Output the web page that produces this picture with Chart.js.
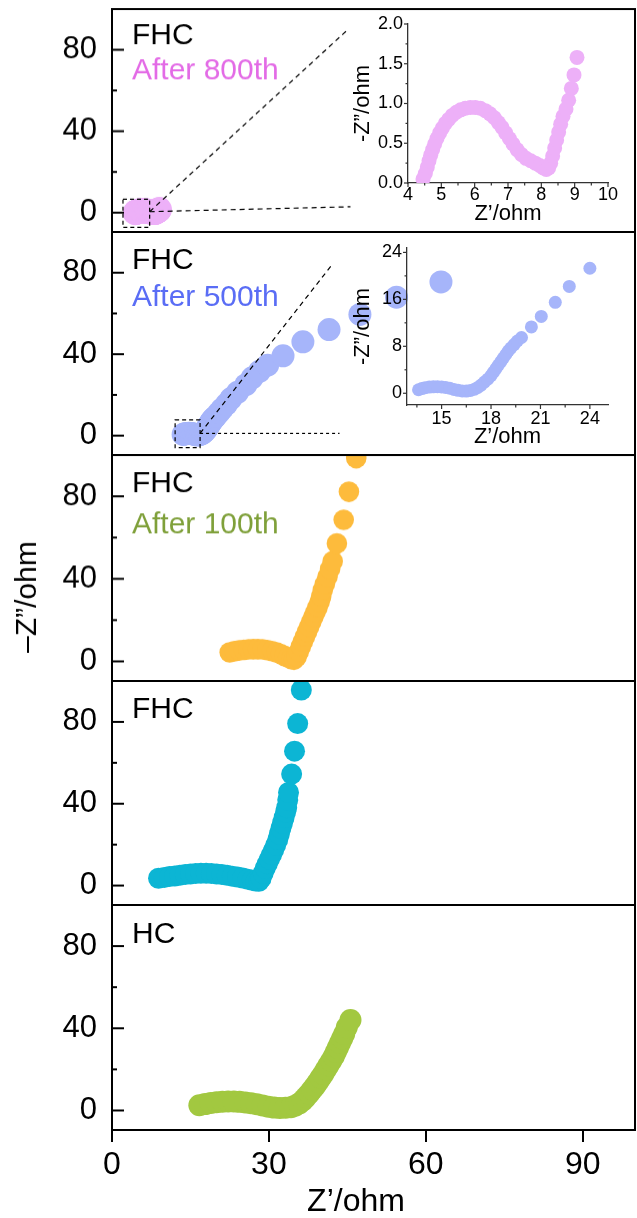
<!DOCTYPE html>
<html>
<head>
<meta charset="utf-8">
<title>Nyquist plots</title>
<script src="https://cdn.jsdelivr.net/npm/chart.js@4.4.1/dist/chart.umd.min.js"></script>
<style>
  html, body { margin: 0; padding: 0; background: #fff; }
  #fig { position: relative; width: 637px; height: 1218px; overflow: hidden; background: #fff; }
  #fig canvas { position: absolute; }
  .axis-title { position: absolute; font-family: 'Liberation Sans', Arial, sans-serif; color: #000; white-space: nowrap; line-height: 1; }
  #ytitle { left: 26px; top: 597px; font-size: 30px; transform: translate(-50%, -50%) rotate(-90deg); }
  #xtitle { left: 356px; top: 1184px; font-size: 32px; transform: translateX(-50%); }
</style>
</head>
<body>
<div id="fig">
  <canvas id="p800"></canvas>
  <canvas id="p500"></canvas>
  <canvas id="p100"></canvas>
  <canvas id="pfhc"></canvas>
  <canvas id="phc"></canvas>
  <canvas id="i800"></canvas>
  <canvas id="i500"></canvas>
  <div class="axis-title" id="ytitle">–Z”/ohm</div>
  <div class="axis-title" id="xtitle">Z’/ohm</div>
</div>
<script>
// FHC after 800 cycles
const after800Re = [4.45, 4.52, 4.58, 4.63, 4.68, 4.74, 4.80, 4.87, 4.95, 5.03, 5.12, 5.22, 5.33, 5.45, 5.58, 5.72,
  5.87, 6.02, 6.17, 6.32, 6.46, 6.59, 6.71, 6.82, 6.93, 7.04, 7.15, 7.27, 7.40, 7.54, 7.68, 7.82, 7.95, 8.06, 8.15,
  8.22, 8.28, 8.34, 8.40, 8.46, 8.52, 8.58, 8.65, 8.74, 8.82, 8.90, 8.98, 9.07];
const after800Im = [0.05, 0.12, 0.20, 0.28, 0.35, 0.42, 0.49, 0.56, 0.63, 0.69, 0.75, 0.80, 0.85, 0.89, 0.92, 0.94,
  0.95, 0.95, 0.94, 0.91, 0.87, 0.82, 0.76, 0.70, 0.63, 0.56, 0.49, 0.42, 0.36, 0.31, 0.28, 0.25, 0.22, 0.19, 0.17,
  0.19, 0.25, 0.34, 0.44, 0.54, 0.64, 0.74, 0.84, 0.93, 1.04, 1.19, 1.36, 1.58];

// FHC after 500 cycles
const after500Re = [13.6, 13.8, 14.0, 14.25, 14.5, 14.75, 15.0, 15.25, 15.5, 15.75, 16.0, 16.25, 16.5, 16.75, 17.0,
  17.2, 17.4, 17.6, 17.8, 18.0, 18.15, 18.3, 18.45, 18.6, 18.75, 18.9, 19.05, 19.2, 19.4, 19.6, 19.85, 20.45, 21.05,
  21.9, 22.75, 24.0, 25.6, 26.8, 28.2, 29.75, 32.7, 36.5, 41.5, 47.4, 54.4, 62.9];
const after500Im = [0.6, 0.8, 0.95, 1.05, 1.1, 1.12, 1.08, 1.0, 0.85, 0.65, 0.5, 0.4, 0.38, 0.48, 0.7,
  1.0, 1.4, 1.9, 2.4, 3.0, 3.6, 4.2, 4.8, 5.4, 6.0, 6.6, 7.2, 7.7, 8.3, 8.9, 9.5, 11.3, 13.1,
  15.5, 18.2, 21.3, 25.0, 28.4, 31.6, 34.6, 39.2, 46.1, 52.1, 59.5, 68.0, 75.5];

// FHC after 100 cycles
const after100Re = [22.5, 23.4, 24.3, 25.2, 26.1, 27.0, 27.9, 28.8, 29.7, 30.6, 31.5, 32.3, 33.0, 33.7, 34.3, 34.8,
  35.3, 35.7, 36.1, 36.5, 36.9, 37.3, 37.7, 38.1, 38.5, 38.9, 39.3, 39.7, 40.0, 40.3, 40.7, 41.2, 41.7, 42.2,
  43.0, 44.3, 45.3, 46.7];
const after100Im = [4.4, 4.9, 5.3, 5.6, 5.8, 5.9, 5.9, 5.8, 5.5, 5.0, 4.3, 3.5, 2.6, 1.8, 1.1, 0.8,
  2.2, 4.6, 7.2, 9.6, 12.0, 14.4, 16.8, 19.2, 21.5, 23.8, 26.2, 28.8, 31.5, 34.5, 37.5, 41.0, 44.8, 48.5,
  57.2, 68.6, 82.2, 98.5];

// FHC fresh
const fhcRe = [8.9, 10.0, 11.0, 12.0, 13.0, 14.0, 15.0, 16.0, 17.0, 18.0, 19.0, 20.0, 21.0, 22.0, 23.0, 24.0, 25.0,
  26.0, 26.8, 27.5, 28.1, 28.5, 28.9, 29.3, 29.7, 30.1, 30.5, 30.9, 31.3, 31.7, 32.0, 32.3, 32.6, 32.9, 33.2, 33.4,
  33.6, 33.75, 34.35, 34.9, 35.5, 36.2];
const fhcIm = [3.6, 4.0, 4.4, 4.7, 5.1, 5.4, 5.7, 5.9, 6.0, 6.0, 5.9, 5.7, 5.4, 5.0, 4.6, 4.2, 3.7,
  3.1, 2.6, 2.2, 2.1, 3.5, 6.0, 8.5, 10.7, 12.9, 15.1, 17.3, 19.8, 22.5, 25.2, 28.0, 30.6, 33.2, 36.0, 38.1,
  41.8, 45.5, 54.5, 65.7, 79.2, 95.6];

// HC fresh
const hcRe = [16.7, 17.8, 18.9, 20.0, 21.1, 22.2, 23.3, 24.4, 25.5, 26.6, 27.7, 28.8, 29.9, 31.0, 32.1, 33.2, 34.2,
  35.0, 35.8, 36.5, 37.1, 37.7, 38.3, 38.9, 39.4, 39.9, 40.4, 40.9, 41.4, 41.9, 42.4, 42.8, 43.2, 43.6, 44.0, 44.4,
  44.9, 45.6];
const hcIm = [2.5, 3.1, 3.6, 4.0, 4.3, 4.4, 4.4, 4.2, 3.9, 3.5, 3.0, 2.4, 1.8, 1.4, 1.2, 1.3, 1.6,
  2.3, 3.4, 4.9, 6.5, 8.3, 10.2, 12.1, 14.0, 15.9, 17.8, 19.9, 22.0, 24.1, 26.3, 28.5, 30.6, 32.8, 35.0, 37.2,
  40.5, 44.0];

// axis ticks
const mainXLabels = [0, 30, 60, 90];
const mainYTicks = [0, 20, 40, 60, 80, 100];
const mainYLabels = [0, 40, 80];
const i800XTicks = [4, 4.5, 5, 5.5, 6, 6.5, 7, 7.5, 8, 8.5, 9, 9.5, 10];
const i800XLabels = [4, 5, 6, 7, 8, 9, 10];
const i800YTicks = [0, 0.25, 0.5, 0.75, 1, 1.25, 1.5, 1.75, 2];
const i800YLabels = [0, 0.5, 1, 1.5, 2];
const i500XTicks = [13.5, 15, 16.5, 18, 19.5, 21, 22.5, 24];
const i500XLabels = [15, 18, 21, 24];
const i500YTicks = [0, 4, 8, 12, 16, 20, 24];
const i500YLabels = [0, 8, 16, 24];

const FONT = "'Liberation Sans', Arial, sans-serif";
Chart.defaults.font.family = FONT;
Chart.defaults.color = '#000';

const PINK = '#EDB0F8', BLUE = '#A6B5FA', ORANGE = '#FDBB3C', CYAN = '#0CB5D4', GREEN = '#A2C840';

function points(re, im) {
  return re.map((x, i) => ({ x: x, y: im[i] }));
}

function place(id, left, top, width, height) {
  const c = document.getElementById(id);
  c.width = width;
  c.height = height;
  c.style.left = left + 'px';
  c.style.top = top + 'px';
  c.style.width = width + 'px';
  c.style.height = height + 'px';
  return c;
}

function series(re, im, color, radius) {
  return {
    data: points(re, im),
    backgroundColor: color,
    borderWidth: 0,
    pointBorderWidth: 0,
    pointRadius: radius,
    pointHoverRadius: radius
  };
}

// scales keep a fixed size and leave no room for label overhang
function fixSize(s, size) {
  if (s.isHorizontal()) s.height = size; else s.width = size;
  s.paddingTop = 0;
  s.paddingBottom = 0;
  s.paddingLeft = 0;
  s.paddingRight = 0;
}

// frame, tick marks, zoom box and panel labels
function decor(spec) {
  return {
    id: 'decor',
    afterDatasetsDraw(chart) {
      const ctx = chart.ctx;
      const area = chart.chartArea;
      const px = v => chart.scales.x.getPixelForValue(v);
      const py = v => chart.scales.y.getPixelForValue(v);
      ctx.save();
      if (spec.zoom) {
        const z = spec.zoom;
        ctx.strokeStyle = '#000';
        ctx.lineWidth = 1.2;
        ctx.setLineDash([4, 3]);
        ctx.strokeRect(px(z.box[0]), py(z.box[3]), px(z.box[1]) - px(z.box[0]), py(z.box[2]) - py(z.box[3]));
        z.leaders.forEach(l => {
          ctx.setLineDash(l.dash);
          ctx.beginPath();
          ctx.moveTo(px(z.from[0]), py(z.from[1]));
          ctx.lineTo(px(l.to[0]), py(l.to[1]));
          ctx.stroke();
        });
        ctx.setLineDash([]);
      }
      (spec.ticks || []).forEach(t => {
        const scale = chart.scales[t.axis];
        ctx.strokeStyle = t.color;
        ctx.lineWidth = t.width;
        t.values.forEach(v => {
          const len = t.major.includes(v) ? t.len[0] : t.len[1];
          const p = scale.getPixelForValue(v);
          ctx.beginPath();
          if (t.axis === 'y') {
            ctx.moveTo(area.left, p);
            ctx.lineTo(area.left + t.dir * len, p);
          } else {
            ctx.moveTo(p, area.bottom);
            ctx.lineTo(p, area.bottom - t.dir * len);
          }
          ctx.stroke();
        });
      });
      if (spec.frame) {
        ctx.strokeStyle = '#000';
        ctx.lineWidth = 2;
        ctx.strokeRect(area.left, area.top, area.right - area.left, area.bottom - area.top);
      }
      ctx.font = '30px ' + FONT;
      ctx.textBaseline = 'alphabetic';
      ctx.textAlign = 'left';
      (spec.text || []).forEach(t => {
        ctx.fillStyle = t.color;
        ctx.fillText(t.text, area.left + 20, area.top + t.dy);
      });
      ctx.restore();
    }
  };
}

const mainTicks = { axis: 'y', values: mainYTicks, major: mainYLabels, len: [12, 5], dir: 1, color: '#000', width: 2 };

function mainPanel(id, top, bottom, datasets, spec, showX) {
  const canvasTop = top - 3;
  const height = showX ? 1218 - canvasTop : bottom - top + 6;
  place(id, 0, canvasTop, 637, height);
  spec.frame = true;
  spec.ticks = [mainTicks];
  return new Chart(id, {
    type: 'scatter',
    data: { datasets: datasets },
    options: {
      responsive: false,
      animation: false,
      devicePixelRatio: 1,
      events: [],
      layout: { autoPadding: false, padding: { top: 3, bottom: showX ? 0 : 3, left: 0, right: 2 } },
      plugins: { legend: { display: false }, tooltip: { enabled: false } },
      scales: {
        x: {
          type: 'linear', min: 0, max: 100, display: showX,
          afterBuildTicks: s => { s.ticks = mainXLabels.map(v => ({ value: v })); },
          afterFit: s => fixSize(s, showX ? 1218 - bottom : 0),
          grid: { drawOnChartArea: false, drawTicks: true, tickLength: 12, lineWidth: 2, color: '#000' },
          border: { display: false },
          ticks: { font: { size: 32 }, padding: 4, maxRotation: 0, autoSkip: false }
        },
        y: {
          type: 'linear', min: -9.5, max: 100,
          afterBuildTicks: s => { s.ticks = mainYLabels.map(v => ({ value: v })); },
          afterFit: s => fixSize(s, 112),
          grid: { display: false, drawTicks: false },
          border: { display: false },
          ticks: { font: { size: 31 }, padding: 15 }
        }
      }
    },
    plugins: [decor(spec)]
  });
}

function insetPanel(id, box, xr, yr, xt, yt, datasets, fmtY, xPad) {
  place(id, 350, box.top, 287, box.height);
  const spec = {
    ticks: [
      { axis: 'x', values: xt[0], major: xt[1], len: [4, 2.5], dir: -1, color: '#333', width: 1.2 },
      { axis: 'y', values: yt[0], major: yt[1], len: [4, 2.5], dir: -1, color: '#333', width: 1.2 }
    ]
  };
  return new Chart(id, {
    type: 'scatter',
    data: { datasets: datasets },
    options: {
      responsive: false,
      animation: false,
      devicePixelRatio: 1,
      events: [],
      layout: { autoPadding: false, padding: { top: box.padTop, bottom: 0, left: 0, right: box.padRight } },
      plugins: { legend: { display: false }, tooltip: { enabled: false } },
      scales: {
        x: {
          type: 'linear', min: xr[0], max: xr[1],
          afterBuildTicks: s => { s.ticks = xt[1].map(v => ({ value: v })); },
          afterFit: s => fixSize(s, box.xH),
          grid: { display: false, drawTicks: false },
          border: { display: true, color: '#333', width: 1.3 },
          ticks: { font: { size: 18 }, padding: xPad, maxRotation: 0, autoSkip: false },
          title: { display: true, text: 'Z’/ohm', font: { size: 22 }, padding: { top: 0, bottom: 5 } }
        },
        y: {
          type: 'linear', min: yr[0], max: yr[1],
          afterBuildTicks: s => { s.ticks = yt[1].map(v => ({ value: v })); },
          afterFit: s => fixSize(s, box.yW),
          grid: { display: false, drawTicks: false },
          border: { display: true, color: '#333', width: 1.3 },
          ticks: { font: { size: 18 }, padding: 5, autoSkip: false, callback: fmtY },
          title: { display: true, text: '-Z”/ohm', font: { size: 22 }, padding: { top: 0, bottom: 0 } }
        }
      }
    },
    plugins: [decor(spec)]
  });
}

mainPanel('p800', 9, 231.7, [series(after800Re, after800Im, PINK, 12.5)], {
  zoom: {
    box: [2.1, 7.2, -7.2, 6.6], from: [7.2, 0.5],
    leaders: [{ to: [44.8, 89.2], dash: [5, 4] }, { to: [45.6, 2.9], dash: [5, 4] }]
  },
  text: [{ text: 'FHC', color: '#000', dy: 34.5 }, { text: 'After 800th', color: '#E36BE6', dy: 70 }]
}, false);

mainPanel('p500', 231.7, 455, [series(after500Re, after500Im, BLUE, 11.5)], {
  zoom: {
    box: [12.07, 16.84, -5.9, 7.7], from: [16.84, 1.1],
    leaders: [{ to: [42.0, 83.7], dash: [5, 4] }, { to: [43.5, 1.1], dash: [3, 3] }]
  },
  text: [{ text: 'FHC', color: '#000', dy: 36.6 }, { text: 'After 500th', color: '#5A6DF5', dy: 74.3 }]
}, false);

mainPanel('p100', 455, 680.5, [series(after100Re, after100Im, ORANGE, 10.3)], {
  text: [{ text: 'FHC', color: '#000', dy: 36.7 }, { text: 'After 100th', color: '#7FA03A', dy: 78.3 }]
}, false);

mainPanel('pfhc', 680.5, 905, [series(fhcRe, fhcIm, CYAN, 10.5)], {
  text: [{ text: 'FHC', color: '#000', dy: 37.2 }]
}, false);

mainPanel('phc', 905, 1130, [series(hcRe, hcIm, GREEN, 11)], {
  text: [{ text: 'HC', color: '#000', dy: 37.7 }]
}, true);

insetPanel('i800', { top: 0, height: 232, padTop: 24, padRight: 29, xH: 49, yW: 58 },
  [4, 10], [0, 2], [i800XTicks, i800XLabels], [i800YTicks, i800YLabels],
  [series(after800Re, after800Im, PINK, 7.5)], v => v.toFixed(1), 1);

insetPanel('i500', { top: 232, height: 223, padTop: 16, padRight: 29, xH: 50, yW: 57 },
  [12.9, 25.1], [-2, 24.75], [i500XTicks, i500XLabels], [i500YTicks, i500YLabels],
  [series(after500Re, after500Im, BLUE, 6.5)], v => String(v), 3);
</script>
</body>
</html>
